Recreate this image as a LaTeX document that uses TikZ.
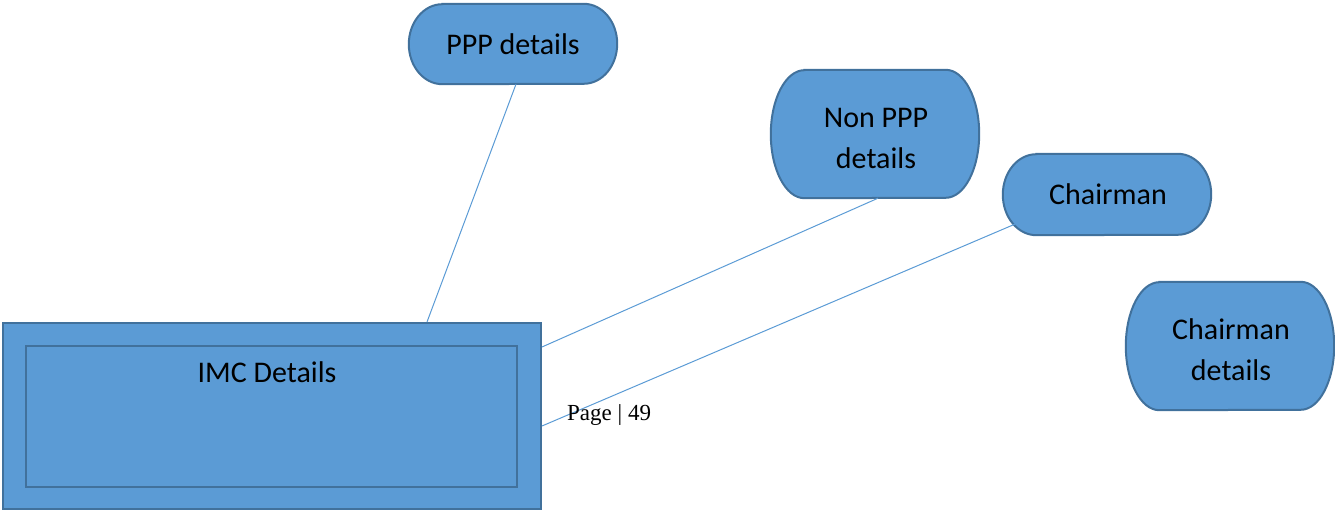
\documentclass[tikz,border=0pt]{standalone}
\usepackage{fontspec}
\setmainfont{Carlito}
\newfontfamily\pagefont{Liberation Serif}
\usetikzlibrary{calc,backgrounds}
\definecolor{boxfill}{HTML}{5B9BD5}
\definecolor{boxline}{HTML}{41719C}
\definecolor{linkline}{HTML}{5B9BD5}
\tikzset{
  termnode/.style={draw=none, inner sep=0pt},
  termtext/.style={inner sep=0pt, align=center,
    font=\fontsize{30}{41}\selectfont},
  termfill/.style={fill=boxfill, draw=boxline, line width=2pt},
  rectbox/.style={fill=boxfill, draw=boxline, line width=2pt, inner sep=0pt},
  link/.style={draw=linkline, line width=1pt},
}
% terminator outline around a named node: #1 node, #2 horizontal end radius, #3 half height
\newcommand\termoutline[3]{%
  \draw[termfill] ($(#1.north west)+(#2pt,0)$) -- ($(#1.north east)+(-#2pt,0)$)
    arc[start angle=90, end angle=-90, x radius=#2pt, y radius=#3pt]
    -- ($(#1.south west)+(#2pt,0)$)
    arc[start angle=270, end angle=90, x radius=#2pt, y radius=#3pt] -- cycle;}
\begin{document}
\begin{tikzpicture}[x=1pt,y=1pt]
\useasboundingbox (0,0) rectangle (1335,510);

% IMC block
\node[rectbox, minimum width=538pt, minimum height=186pt] (imc) at (272,94) {};
\node[rectbox, minimum width=491pt, minimum height=141pt] (imcin) at (271.5,93.5) {};
\node[font=\fontsize{30}{41}\selectfont] (imctext) at (267,138) {IMC Details};

% terminator shapes
\node[termnode, minimum width=208pt, minimum height=80pt] (ppp) at (513,466) {};
\node[termnode, minimum width=208pt, minimum height=128pt] (npp) at (875,376) {};
\node[termnode, minimum width=208pt, minimum height=81pt] (ch) at (1107,315.5) {};
\node[termnode, minimum width=208pt, minimum height=128pt] (chd) at (1230,164) {};

\begin{scope}[on background layer]
  \termoutline{ppp}{33.5}{40}
  \termoutline{npp}{33.5}{64}
  \termoutline{ch}{33.5}{40.5}
  \termoutline{chd}{33.5}{64}
\end{scope}

% labels
\node[termtext] (ppptext) at (513,466) {PPP details};
\node[termtext] (npptext) at (876,372) {Non PPP\\details};
\node[termtext] (chtext) at (1108,315.5) {Chairman};
\node[termtext] (chdtext) at (1231,160) {Chairman\\details};

% connectors
\draw[link] ([xshift=3pt]ppp.south) -- ([xshift=155pt]imc.north);
\draw[link] ([xshift=3pt]npp.south) -- ([yshift=-25pt]imc.north east);
\draw[link] ($(ch.south west)+(12,11)$) -- ([yshift=84pt]imc.south east);

% page number
\node[anchor=west, inner sep=0pt, font=\pagefont\fontsize{23}{26}\selectfont] (page) at (567,95) {Page | 49};
\end{tikzpicture}
\end{document}
